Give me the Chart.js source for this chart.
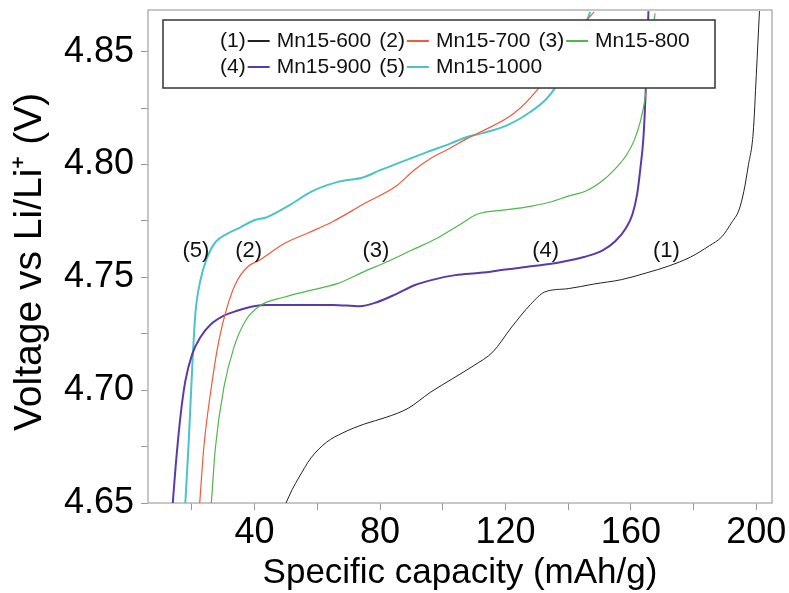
<!DOCTYPE html>
<html>
<head>
<meta charset="utf-8">
<script src="https://cdn.jsdelivr.net/npm/chart.js@4/dist/chart.umd.min.js"></script>
<style>
  html, body { margin: 0; padding: 0; background: #fff; }
  canvas { display: block; }
</style>
</head>
<body>
<canvas id="chart" width="789" height="593"></canvas>
<script>
// series: capacity (mAh/g) vs voltage (V)
const mn600X = [50, 52, 54, 58, 63, 68, 75, 82, 89, 96, 103, 110, 116, 122, 128, 132.5, 140, 148, 157, 165, 172, 179, 185, 189, 192, 194.5, 196, 197.5, 199, 200, 201];
const mn600Y = [4.650, 4.656, 4.661, 4.670, 4.677, 4.681, 4.685, 4.688, 4.692, 4.699, 4.705, 4.711, 4.717, 4.728, 4.738, 4.7435, 4.745, 4.747, 4.749, 4.752, 4.755, 4.759, 4.764, 4.768, 4.774, 4.780, 4.788, 4.800, 4.814, 4.840, 4.868];

const mn700X = [22.5, 23.8, 26.5, 28.6, 31.2, 33.9, 37.6, 41.8, 49.3, 57, 65, 75, 85.4, 90.7, 96, 102, 107.7, 112, 122.6, 130, 135.3, 140.6, 144.5, 148.3];
const mn700Y = [4.650, 4.6746, 4.7042, 4.722, 4.7367, 4.7471, 4.7545, 4.7578, 4.7649, 4.7697, 4.7748, 4.7827, 4.7907, 4.7974, 4.8026, 4.807, 4.8115, 4.8144, 4.8226, 4.8329, 4.8433, 4.8561, 4.862, 4.8677];

const mn800X = [26.2, 27.5, 30.2, 33.4, 37.1, 41.8, 49.3, 57, 66.3, 74, 83, 90, 98, 105, 111, 118.4, 126, 134.3, 140, 146, 151.5, 155.5, 158.5, 161, 163, 164.5, 165.5, 166.5, 167.7];
const mn800Y = [4.650, 4.6746, 4.7012, 4.719, 4.7308, 4.7375, 4.7412, 4.744, 4.7472, 4.752, 4.7574, 4.762, 4.7672, 4.773, 4.778, 4.7797, 4.781, 4.7834, 4.786, 4.7885, 4.7935, 4.7989, 4.804, 4.8105, 4.819, 4.829, 4.840, 4.853, 4.867];

const mn900X = [13.9, 14.8, 16.4, 17.9, 20.1, 22.7, 25.9, 30.2, 34.4, 39.7, 44, 55, 65, 73.5, 79, 85, 91, 97, 104, 112, 120, 129, 137.5, 145, 151, 155, 158.5, 160.5, 162, 163, 164, 164.8, 165.6];
const mn900Y = [4.650, 4.666, 4.689, 4.704, 4.716, 4.7235, 4.729, 4.733, 4.7352, 4.7372, 4.7378, 4.7377, 4.7378, 4.7372, 4.739, 4.7425, 4.7465, 4.749, 4.751, 4.752, 4.7535, 4.755, 4.7567, 4.759, 4.762, 4.766, 4.772, 4.778, 4.787, 4.798, 4.812, 4.835, 4.868];

const mn1000X = [17.9, 19, 20.1, 21.1, 22.7, 24.9, 27.5, 31.2, 35.5, 39.7, 44, 51.4, 57.8, 66.3, 74.8, 80, 85.4, 95, 102.4, 107.7, 112, 120.5, 127.9, 133.2, 136.4, 139, 141.7, 144.5, 147];
const mn1000Y = [4.650, 4.6775, 4.710, 4.7338, 4.7486, 4.7589, 4.7656, 4.7693, 4.7722, 4.7752, 4.7767, 4.7822, 4.7878, 4.7922, 4.7944, 4.7975, 4.8004, 4.8055, 4.8093, 4.8122, 4.8137, 4.8174, 4.8233, 4.8293, 4.8352, 4.842, 4.8485, 4.858, 4.8677];

const seriesNames = ["Mn15-600", "Mn15-700", "Mn15-800", "Mn15-900", "Mn15-1000"];
const seriesTags = ["(1)", "(2)", "(3)", "(4)", "(5)"];

// curve tags placed on the plot, in data units
const tagX = [171.3, 38.1, 78.7, 132.8, 21.3];
const tagY = [4.7615, 4.7615, 4.7615, 4.7615, 4.7615];

const xTicks = [20, 40, 60, 80, 100, 120, 140, 160, 180, 200];
const xTickLabels = ["", "40", "", "80", "", "120", "", "160", "", "200"];
const yTicks = [4.65, 4.675, 4.70, 4.725, 4.75, 4.775, 4.80, 4.825, 4.85];
const yTickLabels = ["4.65", "", "4.70", "", "4.75", "", "4.80", "", "4.85"];

const FONT = "'Liberation Sans', Arial, sans-serif";
const colors = ["#222222", "#f05a3c", "#4fb74c", "#5b3aa6", "#4cc4c6"];
const widths = [1, 1.2, 1.2, 2, 2];

function pts(xs, ys) {
  return xs.map((x, i) => ({ x: x, y: ys[i] }));
}

const allX = [mn600X, mn700X, mn800X, mn900X, mn1000X];
const allY = [mn600Y, mn700Y, mn800Y, mn900Y, mn1000Y];

const datasets = seriesNames.map((name, i) => ({
  label: name,
  data: pts(allX[i], allY[i]),
  borderColor: colors[i],
  borderWidth: widths[i],
  pointRadius: 0,
  cubicInterpolationMode: "monotone",
  fill: false
}));

// no extra room for overhanging tick labels
function noPad(s) {
  s.paddingTop = 0; s.paddingBottom = 0; s.paddingLeft = 0; s.paddingRight = 0;
}

// gray frame round the plot area
const framePlugin = {
  id: "frame",
  beforeDatasetsDraw(chart) {
    const a = chart.chartArea, ctx = chart.ctx;
    ctx.save();
    ctx.strokeStyle = "#b4b4b4";
    ctx.lineWidth = 1.5;
    ctx.strokeRect(a.left, a.top, a.right - a.left, a.bottom - a.top);
    ctx.restore();
  }
};

// (1)..(5) tags next to the curves
const tagPlugin = {
  id: "tags",
  afterDatasetsDraw(chart) {
    const ctx = chart.ctx, xs = chart.scales.x, ys = chart.scales.y;
    ctx.save();
    ctx.font = "22px " + FONT;
    ctx.fillStyle = "#111";
    ctx.textAlign = "center";
    ctx.textBaseline = "middle";
    seriesTags.forEach((t, i) => {
      ctx.fillText(t, xs.getPixelForValue(tagX[i]), ys.getPixelForValue(tagY[i]));
    });
    ctx.restore();
  }
};

// boxed legend: "(n)— name", three per row
const legendPlugin = {
  id: "boxLegend",
  afterDatasetsDraw(chart) {
    const ctx = chart.ctx;
    ctx.save();
    ctx.fillStyle = "#fff";
    ctx.fillRect(163, 20, 552, 68);
    ctx.strokeStyle = "#333";
    ctx.lineWidth = 1.5;
    ctx.strokeRect(163, 20, 552, 68);
    ctx.font = "21px " + FONT;
    ctx.textBaseline = "middle";
    ctx.textAlign = "left";
    const rows = [41, 67];
    let x = 220;
    chart.data.datasets.forEach((ds, i) => {
      if (i % 3 === 0) x = 220;
      const y = rows[Math.floor(i / 3)];
      ctx.fillStyle = "#111";
      ctx.fillText(seriesTags[i], x, y);
      x += ctx.measureText(seriesTags[i]).width + 2;
      ctx.strokeStyle = ds.borderColor;
      ctx.lineWidth = 2;
      ctx.beginPath();
      ctx.moveTo(x, y);
      ctx.lineTo(x + 22, y);
      ctx.stroke();
      x += 29;
      ctx.fillText(ds.label, x, y);
      x += ctx.measureText(ds.label).width + 8;
    });
    ctx.restore();
  }
};

new Chart(document.getElementById("chart"), {
  type: "line",
  data: { datasets },
  options: {
    responsive: false,
    animation: false,
    layout: { padding: { left: 0, right: 17, top: 10, bottom: 0 } },
    plugins: { legend: { display: false }, tooltip: { enabled: false } },
    scales: {
      x: {
        type: "linear",
        min: 6,
        max: 205,
        afterFit(s) { s.height = 90; noPad(s); },
        afterBuildTicks(s) { s.ticks = xTicks.map(v => ({ value: v })); },
        grid: { drawOnChartArea: false, drawTicks: true, tickLength: 7, color: "#999", lineWidth: 1 },
        border: { display: false },
        ticks: {
          autoSkip: false,
          maxRotation: 0,
          padding: 1,
          color: "#000",
          font: { family: FONT, size: 36 },
          callback(v) { const k = xTicks.indexOf(v); return k >= 0 ? xTickLabels[k] : ""; }
        },
        title: {
          display: true,
          text: "Specific capacity (mAh/g)",
          color: "#000",
          font: { family: FONT, size: 35, lineHeight: 1.1 },
          padding: { top: 0, bottom: 0 }
        }
      },
      y: {
        type: "linear",
        min: 4.65,
        max: 4.8685,
        afterFit(s) { s.width = 148; noPad(s); },
        afterBuildTicks(s) { s.ticks = yTicks.map(v => ({ value: v })); },
        grid: { drawOnChartArea: false, drawTicks: true, tickLength: 7, color: "#999", lineWidth: 1 },
        border: { display: false },
        ticks: {
          autoSkip: false,
          padding: 7,
          color: "#000",
          font: { family: FONT, size: 36 },
          callback(v) {
            const k = yTicks.findIndex(t => Math.abs(t - v) < 1e-6);
            return k >= 0 ? yTickLabels[k] : "";
          }
        },
        title: {
          display: true,
          text: "Voltage vs Li/Li\u207A (V) ",
          color: "#000",
          font: { family: FONT, size: 39 },
          padding: { top: 7, bottom: 0 }
        }
      }
    }
  },
  plugins: [framePlugin, tagPlugin, legendPlugin]
});
</script>
</body>
</html>
